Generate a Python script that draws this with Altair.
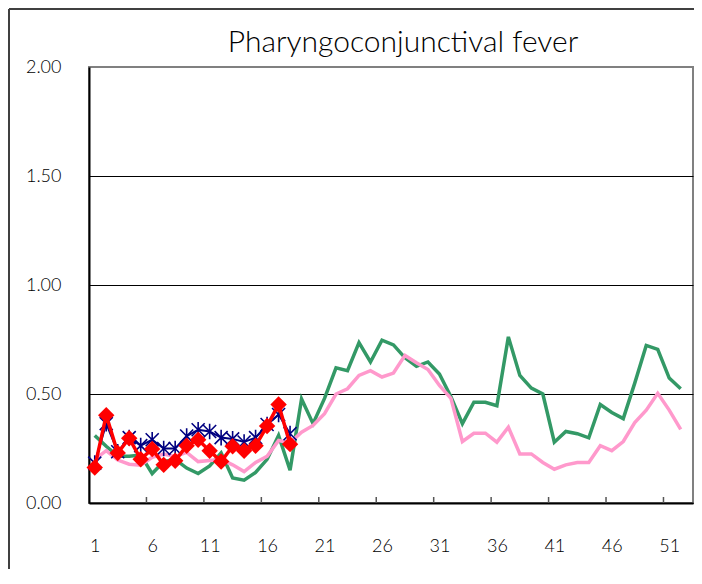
import altair as alt
import pandas as pd

weeks_full = list(range(1, 53))
weeks_cur = list(range(1, 19))

green_vals = [0.31, 0.26, 0.215, 0.215, 0.22, 0.135, 0.19, 0.2, 0.16, 0.135,
              0.17, 0.23, 0.115, 0.105, 0.14, 0.2, 0.31, 0.15, 0.477, 0.364,
              0.48, 0.62, 0.607, 0.736, 0.647, 0.747, 0.725, 0.666, 0.627, 0.647,
              0.592, 0.488, 0.364, 0.462, 0.462, 0.446, 0.762, 0.585, 0.527, 0.5,
              0.279, 0.328, 0.318, 0.299, 0.452, 0.415, 0.387, 0.55, 0.723, 0.705,
              0.573, 0.524]
pink_vals = [0.2, 0.24, 0.197, 0.178, 0.173, 0.21, 0.225, 0.214, 0.232, 0.19,
             0.195, 0.2, 0.175, 0.144, 0.186, 0.214, 0.287, 0.276, 0.325, 0.356,
             0.41, 0.5, 0.524, 0.585, 0.607, 0.578, 0.596, 0.677, 0.643, 0.612,
             0.539, 0.48, 0.282, 0.32, 0.32, 0.279, 0.348, 0.225, 0.225, 0.186,
             0.155, 0.175, 0.186, 0.186, 0.263, 0.24, 0.282, 0.369, 0.426, 0.503,
             0.426, 0.338]
navy_vals = [0.183, 0.364, 0.235, 0.30, 0.263, 0.29, 0.25, 0.25, 0.307, 0.336,
             0.328, 0.30, 0.294, 0.28, 0.30, 0.36, 0.406, 0.318]
red_vals = [0.163, 0.403, 0.229, 0.297, 0.201, 0.248, 0.175, 0.194, 0.263, 0.29,
            0.24, 0.19, 0.26, 0.24, 0.263, 0.353, 0.452, 0.27]

title_text = "Pharyngoconjunctival fever"
x_labels = [1, 6, 11, 16, 21, 26, 31, 36, 41, 46, 51]
x_tick_bounds = [5.5, 10.5, 15.5, 20.5, 25.5, 30.5, 35.5, 40.5, 45.5, 50.5]
y_ticks = [0, 0.5, 1.0, 1.5, 2.0]

W, H = 604, 436
FONT = "Lato"

df_green = pd.DataFrame({"week": weeks_full, "value": green_vals})
df_pink = pd.DataFrame({"week": weeks_full, "value": pink_vals})
df_navy = pd.DataFrame({"week": weeks_cur, "value": navy_vals})
df_red = pd.DataFrame({"week": weeks_cur, "value": red_vals})
df_ticks = pd.DataFrame({"week": x_tick_bounds})

xenc = alt.X("week:Q",
             scale=alt.Scale(domain=[0.5, 53.07], nice=False, zero=False),
             axis=alt.Axis(values=x_labels, title=None, grid=False, tickSize=0,
                           labelFontSize=18, labelFont=FONT, labelColor="black",
                           labelFontWeight=300,
                           labelPadding=34, labelFlush=False,
                           domainColor="black", domainWidth=2, format="d"))
yenc = alt.Y("value:Q",
             scale=alt.Scale(domain=[0, 2], nice=False),
             axis=alt.Axis(values=y_ticks, title=None, grid=True, tickSize=0,
                           format=".2f", labelFontSize=18, labelFont=FONT,
                           labelFontWeight=300,
                           labelColor="black", labelPadding=28, labelFlush=False,
                           gridColor={"condition": {"test": "datum.value === 2", "value": "#808080"},
                                      "value": "black"},
                           gridWidth=1, domainColor="black", domainWidth=2))

green = alt.Chart(df_green).mark_line(color="#339966", strokeWidth=3.5).encode(x=xenc, y=yenc)
pink = alt.Chart(df_pink).mark_line(color="#FF99CC", strokeWidth=3.5).encode(x=xenc, y=yenc)
navy_line = alt.Chart(df_navy).mark_line(color="#000080", strokeWidth=2).encode(x=xenc, y=yenc)
navy_pts = alt.Chart(df_navy).mark_point(
    shape="M-1,-1L1,1M-1,1L1,-1M0,-1.2L0,1.2", filled=False, color="#000080",
    strokeWidth=1.6, size=170, opacity=1).encode(x=xenc, y=yenc)
red_line = alt.Chart(df_red).mark_line(color="#FF0000", strokeWidth=3.5).encode(x=xenc, y=yenc)
red_pts = alt.Chart(df_red).mark_point(
    shape="diamond", filled=True, color="#FF0000", size=270, opacity=1).encode(x=xenc, y=yenc)

ticks = alt.Chart(df_ticks).mark_rule(color="#555555", strokeWidth=1.5).encode(
    x=xenc, y=alt.value(H), y2=alt.value(H - 6))

frame_df = pd.DataFrame({"a": [0]})
frame_top = alt.Chart(frame_df).mark_rule(color="#404040", strokeWidth=2).encode(
    x=alt.value(-80), x2=alt.value(W + 1), y=alt.value(-58))
frame_left = alt.Chart(frame_df).mark_rule(color="#404040", strokeWidth=2).encode(
    x=alt.value(-80), y=alt.value(-58), y2=alt.value(H + 66))

title = alt.Chart(frame_df).mark_text(
    text=title_text, font=FONT, fontSize=30, fontWeight=300, color="black",
    align="center", baseline="alphabetic").encode(x=alt.value(W / 2 + 12), y=alt.value(-15))

chart = alt.layer(
    frame_top, frame_left, title, green, pink, navy_line, navy_pts, red_line, red_pts, ticks
).properties(
    width=W, height=H,
    autosize=alt.AutoSizeParams(type="none"),
    padding={"left": 81, "top": 59, "right": 1, "bottom": 66},
).configure_view(stroke="#808080", strokeWidth=2)

chart.save("out.html", embed_options={"renderer": "svg", "actions": False})
